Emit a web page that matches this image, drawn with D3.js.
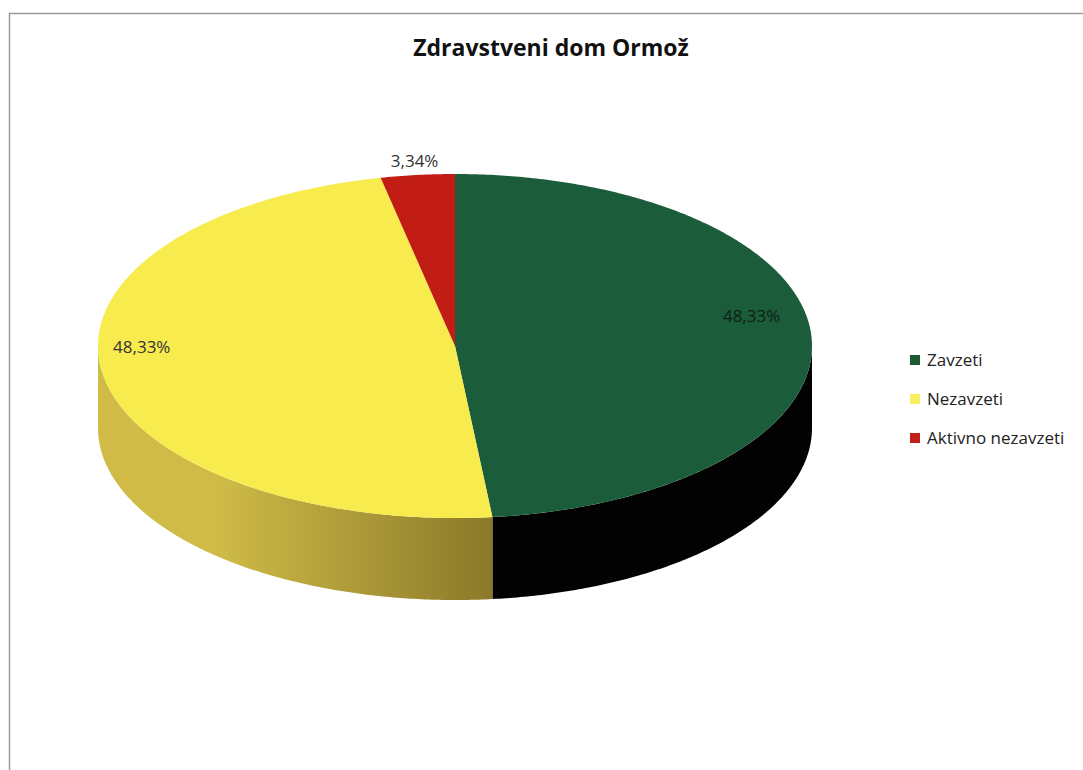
<!DOCTYPE html>
<html>
    <head>
        <script type="text/javascript" src="https://cdn.jsdelivr.net/npm/d3@7"></script>
        <style type="text/css">
            body { margin: 0; background: white; }
            text { font-family: "Open Sans", sans-serif; }
        </style>
    </head>
    <body>
        <script type="text/javascript">

            // Data
            var categories = ["Zavzeti", "Nezavzeti", "Aktivno nezavzeti"];
            var values = [48.33, 48.33, 3.34];
            var labels = ["48,33%", "48,33%", "3,34%"];
            var topColors = ["#1b5c3b", "#f7eb4e", "#c21d14"];
            var sideLight = ["#070a08", "#cfbb46", "#8a1410"];
            var sideDark = ["#020202", "#8a782a", "#5a0d0a"];
            var legendColors = ["#1f5a30", "#f8ee62", "#c0201a"];

            var w = 1083, h = 770;
            var cx = 455, cy = 346;   // centre of top face
            var rx = 357, ry = 172;   // ellipse radii
            var depth = 82;           // pie thickness

            var svg = d3.select("body").append("svg")
                        .attr("width", w)
                        .attr("height", h);

            // frame
            svg.append("path")
               .attr("d", "M9.5," + h + " V13.5 H" + w)
               .attr("fill", "none")
               .attr("stroke", "#9a9a9a")
               .attr("stroke-width", 1.5);

            // title
            svg.append("text")
               .attr("x", 551).attr("y", 56)
               .attr("text-anchor", "middle")
               .attr("font-size", 23)
               .attr("font-weight", "bold")
               .attr("fill", "#111")
               .text("Zdravstveni dom Ormož");

            var pie = d3.pie().sort(null);
            var slices = pie(values);

            function pt(a, dy) {
                return [cx + rx * Math.sin(a), cy - ry * Math.cos(a) + (dy || 0)];
            }
            function arcPts(a0, a1, dy) {
                var n = Math.max(2, Math.ceil((a1 - a0) / 0.01));
                return d3.range(n + 1).map(function(i) { return pt(a0 + (a1 - a0) * i / n, dy); });
            }

            var defs = svg.append("defs");
            slices.forEach(function(d, i) {
                var g = defs.append("linearGradient")
                    .attr("id", "side" + i)
                    .attr("gradientUnits", "userSpaceOnUse")
                    .attr("x1", cx - rx).attr("x2", cx + rx * 0.12)
                    .attr("y1", 0).attr("y2", 0);
                g.append("stop").attr("offset", 0).attr("stop-color", sideLight[i]);
                g.append("stop").attr("offset", 0.3).attr("stop-color", sideLight[i]);
                g.append("stop").attr("offset", 1).attr("stop-color", sideDark[i]);
            });

            // side walls (front half only: angles PI/2 .. 3PI/2)
            var line = d3.line();
            slices.forEach(function(d, i) {
                var a0 = Math.max(d.startAngle, Math.PI / 2);
                var a1 = Math.min(d.endAngle, 3 * Math.PI / 2);
                if (a1 <= a0) return;
                var top = arcPts(a0, a1, 0);
                var bot = arcPts(a0, a1, depth).reverse();
                svg.append("path")
                   .attr("d", line(top.concat(bot)) + "Z")
                   .attr("fill", "url(#side" + i + ")");
            });

            // top faces
            slices.forEach(function(d, i) {
                var p = [[cx, cy]].concat(arcPts(d.startAngle, d.endAngle, 0));
                svg.append("path")
                   .attr("d", line(p) + "Z")
                   .attr("fill", topColors[i]);
            });

            // data labels
            slices.forEach(function(d, i) {
                var mid = (d.startAngle + d.endAngle) / 2;
                var small = (d.endAngle - d.startAngle) < 0.3;
                var r = small ? 1.08 : 0.86;
                var x = cx + rx * r * Math.sin(mid) - (small ? 0 : 10);
                var y = cy - ry * r * Math.cos(mid) - (small ? 0 : 22);
                svg.append("text")
                   .attr("x", x).attr("y", y)
                   .attr("dy", "0.35em")
                   .attr("text-anchor", "middle")
                   .attr("font-size", 17)
                   .attr("fill", i === 0 ? "#0d1f14" : "#333")
                   .text(labels[i]);
            });

            // legend
            var leg = svg.selectAll("g.leg")
                .data(categories)
                .enter().append("g")
                .attr("class", "leg")
                .attr("transform", function(d, i) { return "translate(910," + (355 + i * 39) + ")"; });
            leg.append("rect")
               .attr("width", 10).attr("height", 10)
               .attr("fill", function(d, i) { return legendColors[i]; });
            leg.append("text")
               .attr("x", 17).attr("y", 5)
               .attr("dy", "0.35em")
               .attr("font-size", 17)
               .attr("fill", "#222")
               .text(function(d) { return d; });

        </script>
    </body>
</html>
